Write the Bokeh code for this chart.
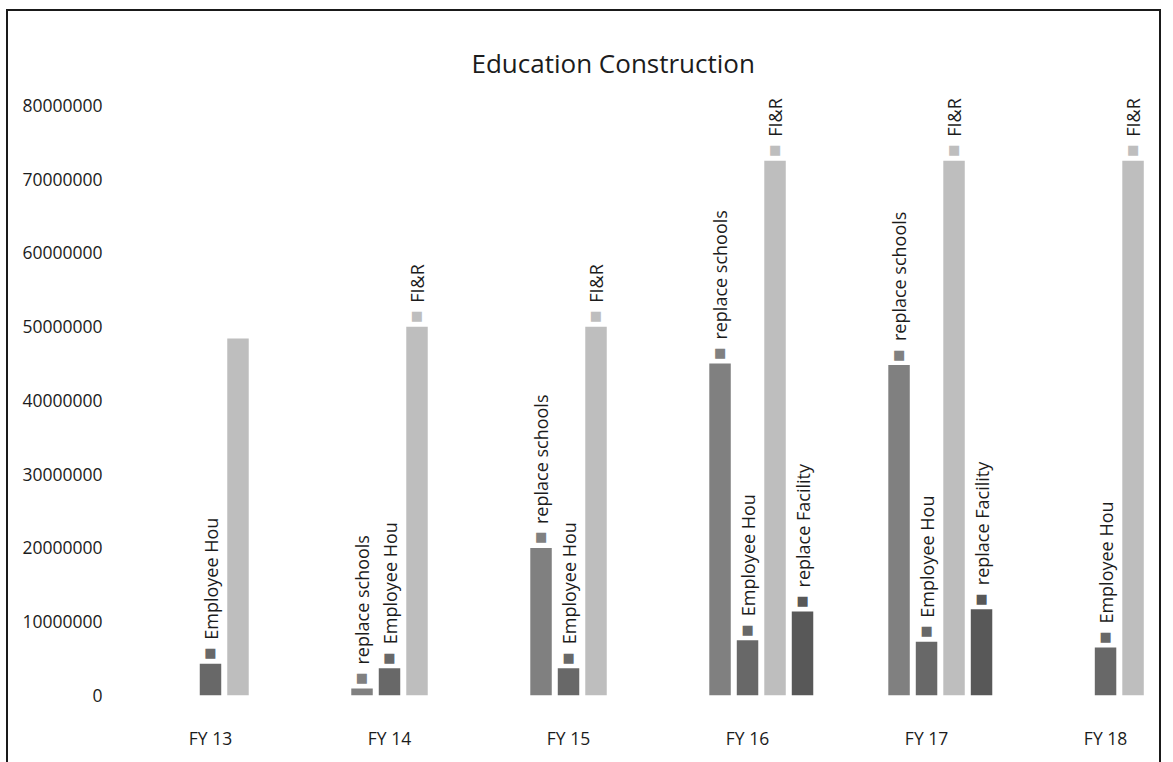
import numpy as np
from bokeh.plotting import figure
from bokeh.models import Range1d, FixedTicker, NumeralTickFormatter, ColumnDataSource
from bokeh.core.properties import value
from bokeh.embed import file_html
from bokeh.resources import INLINE

# ---------------- data ----------------
fiscal_years = ["FY 13", "FY 14", "FY 15", "FY 16", "FY 17", "FY 18"]
replace_schools = [0, 950000, 20000000, 45000000, 44800000, 0]
employee_hou = [4300000, 3700000, 3700000, 7500000, 7300000, 6500000]
fi_r = [48400000, 50000000, 50000000, 72500000, 72500000, 72500000]
replace_facility = [0, 0, 0, 11400000, 11700000, 0]

# which bars carry a data label in the original
label_replace_schools = [False, True, True, True, True, False]
label_employee_hou = [True, True, True, True, True, True]
label_fi_r = [False, True, True, True, True, True]
label_replace_facility = [False, False, False, True, True, False]

y_ticks = [0, 10000000, 20000000, 30000000, 40000000, 50000000, 60000000, 70000000, 80000000]

# ---------------- styling ----------------
FONT = "Open Sans"
TEXT = "#1c1c1c"
SLOT = 0.1536
BAR_W = 0.12

series = [
    ("replace schools", replace_schools, label_replace_schools, "#808080", -1),
    ("Employee Hou", employee_hou, label_employee_hou, "#686868", 0),
    ("FI&R", fi_r, label_fi_r, "#bebebe", 1),
    ("replace Facility", replace_facility, label_replace_facility, "#585858", 2),
]

idx = np.arange(len(fiscal_years))

p = figure(width=1155, height=760, output_backend="svg", toolbar_location=None,
           x_range=Range1d(-0.4916, 5.307), y_range=Range1d(0, 82300000),
           min_border_left=114, min_border_right=3, min_border_top=77, min_border_bottom=76)
p.styles = {"margin-left": "6px", "margin-top": "9px", "border": "2px solid #1a1a1a"}

p.title.text = "Education Construction"
p.title.align = "left"
p.title.offset = 349
p.title.standoff = 15
p.title.text_font = FONT
p.title.text_font_size = "26px"
p.title.text_font_style = "normal"
p.title.text_color = TEXT

p.background_fill_color = "white"
p.border_fill_color = "white"
p.outline_line_color = None
p.xgrid.grid_line_color = None
p.ygrid.grid_line_color = None

for name, vals, show, color, slot in series:
    xs = idx + slot * SLOT
    src = ColumnDataSource(dict(x=xs, top=vals))
    p.vbar(x="x", top="top", width=BAR_W, source=src, fill_color=color, line_color=None)
    lx = [x for x, s in zip(xs, show) if s]
    ly = [v for v, s in zip(vals, show) if s]
    lsrc = ColumnDataSource(dict(x=lx, y=ly, t=[name] * len(lx), m=["\u25a0"] * len(lx)))
    p.text(x="x", y="y", text="m", source=lsrc, text_color=color, text_font=value("DejaVu Sans"),
           text_font_size="13px", text_align="center", text_baseline="middle", y_offset=-11)
    p.text(x="x", y="y", text="t", source=lsrc, angle=np.pi / 2, text_color=TEXT,
           text_font=value(FONT), text_font_size="18px", text_align="left",
           text_baseline="middle", y_offset=-24)

# axes
p.xaxis.ticker = FixedTicker(ticks=list(idx))
p.xaxis.major_label_overrides = {int(i): fy for i, fy in zip(idx, fiscal_years)}
p.yaxis.ticker = FixedTicker(ticks=y_ticks)
p.yaxis.formatter = NumeralTickFormatter(format="0")
for ax in (p.xaxis[0], p.yaxis[0]):
    ax.axis_line_color = None
    ax.major_tick_line_color = None
    ax.minor_tick_line_color = None
    ax.major_label_text_font = FONT
    ax.major_label_text_font_size = "17.5px"
    ax.major_label_text_color = TEXT
p.yaxis.major_label_standoff = 14
p.xaxis.major_label_standoff = 24

open("out.html", "w").write(file_html(p, INLINE))
